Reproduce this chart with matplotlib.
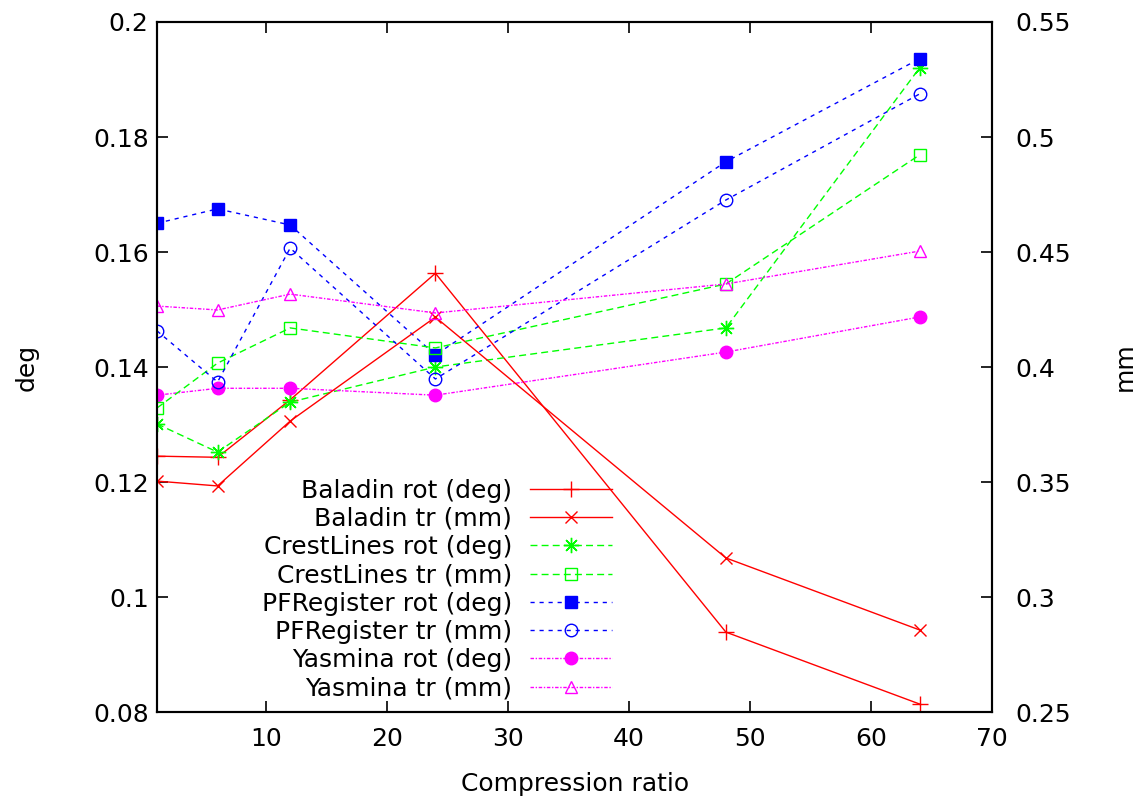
import matplotlib
matplotlib.use("Agg")
import matplotlib.pyplot as plt
from matplotlib.ticker import FixedLocator, FixedFormatter

# compression ratios (x)
RATIO = [1, 6, 12, 24, 48, 64]

# rotation errors (deg, left axis)
BALADIN_ROT = [0.1245, 0.1243, 0.1343, 0.1563, 0.0939, 0.0814]
CREST_ROT = [0.1301, 0.1252, 0.1339, 0.1400, 0.1468, 0.1920]
PFREG_ROT = [0.1650, 0.1675, 0.1647, 0.1421, 0.1757, 0.1936]
YASMINA_ROT = [0.1351, 0.1363, 0.1363, 0.1351, 0.1426, 0.1487]

# translation errors (mm, right axis)
BALADIN_TR = [0.3504, 0.3483, 0.3765, 0.4217, 0.3170, 0.2857]
CREST_TR = [0.3822, 0.4017, 0.4170, 0.4083, 0.4361, 0.4922]
PFREG_TR = [0.4157, 0.3935, 0.4517, 0.3948, 0.4726, 0.5187]
YASMINA_TR = [0.4265, 0.4248, 0.4317, 0.4235, 0.4361, 0.4504]

X_TICKS = [10, 20, 30, 40, 50, 60, 70]
Y_TICKS = [0.08, 0.1, 0.12, 0.14, 0.16, 0.18, 0.2]
Y_LABELS = ["0.08", "0.1", "0.12", "0.14", "0.16", "0.18", "0.2"]
Y2_TICKS = [0.25, 0.3, 0.35, 0.4, 0.45, 0.5, 0.55]
Y2_LABELS = ["0.25", "0.3", "0.35", "0.4", "0.45", "0.5", "0.55"]

RED = "#ff0000"
GREEN = "#00ff00"
BLUE = "#0000ff"
MAGENTA = "#ff00ff"
FS = 18

plt.rcParams["font.family"] = ["DejaVu Sans"]
plt.rcParams["font.size"] = FS

fig = plt.figure(figsize=(11.43, 7.97), dpi=100)
ax = fig.add_axes([0.1374, 0.1066, 0.7306, 0.8658])
ax2 = ax.twinx()

lw = 1.0
crest_dash = (5, 3)
pf_dash = (3, 3.5)
yas_dash = (2.5, 1.2, 1, 1.2)

h = []
h += ax.plot(RATIO, BALADIN_ROT, color=RED, lw=lw, marker="+", ms=11, mew=1.0,
             label="Baladin rot (deg)")
h += ax2.plot(RATIO, BALADIN_TR, color=RED, lw=lw, marker="x", ms=9, mew=1.0,
              label="Baladin tr (mm)")
h += ax.plot(RATIO, CREST_ROT, color=GREEN, lw=lw, dashes=crest_dash,
             marker=(8, 2, 0), ms=11, mew=1.0, label="CrestLines rot (deg)")
h += ax2.plot(RATIO, CREST_TR, color=GREEN, lw=lw, dashes=crest_dash,
              marker="s", ms=9, mfc="none", mew=1.0, label="CrestLines tr (mm)")
h += ax.plot(RATIO, PFREG_ROT, color=BLUE, lw=lw, dashes=pf_dash,
             marker="s", ms=9, mew=1.0, label="PFRegister rot (deg)")
h += ax2.plot(RATIO, PFREG_TR, color=BLUE, lw=lw, dashes=pf_dash,
              marker="o", ms=9, mfc="none", mew=1.0, label="PFRegister tr (mm)")
h += ax.plot(RATIO, YASMINA_ROT, color=MAGENTA, lw=lw, dashes=yas_dash,
             marker="o", ms=9, mew=1.0, label="Yasmina rot (deg)")
h += ax2.plot(RATIO, YASMINA_TR, color=MAGENTA, lw=lw, dashes=yas_dash,
              marker="^", ms=9, mfc="none", mew=1.0, label="Yasmina tr (mm)")

ax.set_xlim(1, 70)
ax.set_ylim(0.08, 0.2)
ax2.set_ylim(0.25, 0.55)

ax.xaxis.set_major_locator(FixedLocator(X_TICKS))
ax.yaxis.set_major_locator(FixedLocator(Y_TICKS))
ax.yaxis.set_major_formatter(FixedFormatter(Y_LABELS))
ax2.yaxis.set_major_locator(FixedLocator(Y2_TICKS))
ax2.yaxis.set_major_formatter(FixedFormatter(Y2_LABELS))

ax.tick_params(axis="x", direction="in", length=8, width=1.2, top=True,
               labelsize=FS, pad=11)
ax.tick_params(axis="y", direction="in", length=8, width=1.2, right=False,
               labelsize=FS, pad=6)
ax2.tick_params(axis="y", direction="in", length=8, width=1.2,
                labelsize=FS, pad=17)

for a in (ax, ax2):
    for sp in a.spines.values():
        sp.set_linewidth(1.5)
        sp.set_color("black")

ax.set_xlabel("Compression ratio", fontsize=FS, labelpad=15)
ax.set_ylabel("deg", fontsize=FS, labelpad=39)
ax2.set_ylabel("mm", fontsize=FS, labelpad=30, rotation=90)

leg = ax2.legend(handles=h, loc="lower right", bbox_to_anchor=(0.545, 0.017),
                 frameon=False, markerfirst=False, numpoints=1,
                 handlelength=3.3, handletextpad=0.7, labelspacing=0.17,
                 borderpad=0, borderaxespad=0, fontsize=FS)

fig.savefig("out.png", dpi=100)
